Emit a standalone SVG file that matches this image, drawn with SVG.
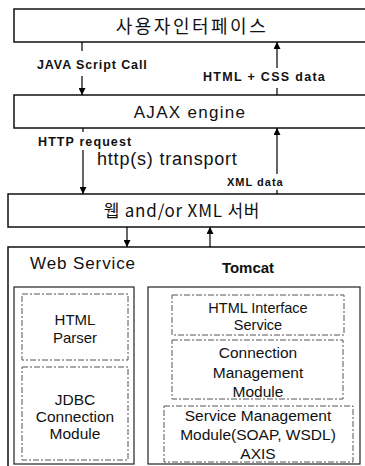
<svg xmlns="http://www.w3.org/2000/svg" width="365" height="466" viewBox="0 0 365 466">
<defs>
<marker id="ah" viewBox="0 0 10 10" refX="10" refY="5" markerWidth="7" markerHeight="7" orient="auto" markerUnits="userSpaceOnUse">
<path d="M0,0 L10,5 L0,10 z" fill="#000"/>
</marker>
<style>
.box{fill:#fff;stroke:#111;stroke-width:1.5}
.frame{fill:none;stroke:#222;stroke-width:1.2}
.inner{fill:none;stroke:#555;stroke-width:1;stroke-dasharray:6 2 2 2}
.conn{stroke:#000;stroke-width:1.2;fill:none;marker-end:url(#ah)}
.t{font-family:"Liberation Sans",Arial,sans-serif;fill:#111;text-anchor:middle}
.k{font-family:"Noto Sans CJK KR","Liberation Sans",sans-serif;fill:#111;text-anchor:middle}
.lbl{font-family:"Liberation Sans",Arial,sans-serif;font-weight:bold;fill:#111}
</style>
</defs>
<rect width="365" height="466" fill="#fff"/>
<g id="ui">
<rect class="box" x="14" y="9" width="360" height="33"/>
<text class="k" x="192" y="33" font-size="18" letter-spacing="2.5">사용자인터페이스</text>
</g>
<g id="ajax">
<rect class="box" x="14" y="95" width="360" height="33"/>
<text class="t" x="190" y="118" font-size="17" letter-spacing="1.3">AJAX engine</text>
</g>
<g id="server">
<rect class="box" x="8" y="194" width="366" height="33"/>
<text class="k" x="182" y="217" font-size="17" letter-spacing="0.8">웹 and/or XML 서버</text>
</g>
<g id="webservice">
<rect class="box" x="8" y="247" width="366" height="230"/>
<text class="t" x="83" y="269" font-size="17" letter-spacing="0.9">Web Service</text>
</g>
<g id="leftframe">
<rect class="frame" x="14" y="287" width="120" height="177"/>
</g>
<g id="htmlparser">
<rect class="inner" x="22" y="294" width="106" height="66"/>
<text class="t" x="75" y="325" font-size="15">HTML</text>
<text class="t" x="75" y="343" font-size="15">Parser</text>
</g>
<g id="jdbc">
<rect class="inner" x="22" y="367" width="106" height="93"/>
<text class="t" x="75" y="405" font-size="15.5">JDBC</text>
<text class="t" x="75" y="422" font-size="15.5">Connection</text>
<text class="t" x="75" y="439" font-size="15.5">Module</text>
</g>
<g id="tomcat">
<rect class="frame" x="148" y="287" width="212" height="177"/>
<text class="t" x="248" y="273" font-size="15" font-weight="bold">Tomcat</text>
</g>
<g id="htmlinterface">
<rect class="inner" x="172" y="295" width="172" height="40"/>
<text class="t" x="258" y="313" font-size="14.5">HTML Interface</text>
<text class="t" x="258" y="330" font-size="14.5">Service</text>
</g>
<g id="connmgmt">
<rect class="inner" x="172" y="340" width="171" height="59"/>
<text class="t" x="258" y="358" font-size="15.5">Connection</text>
<text class="t" x="258" y="378" font-size="15.5">Management</text>
<text class="t" x="258" y="397" font-size="15.5">Module</text>
</g>
<g id="svcmgmt">
<rect class="inner" x="164" y="406" width="189" height="56"/>
<text class="t" x="258" y="421" font-size="15.5">Service Management</text>
<text class="t" x="258" y="440" font-size="15.5">Module(SOAP, WSDL)</text>
<text class="t" x="258" y="459" font-size="15.5">AXIS</text>
</g>
<g id="connectors">
<path class="conn" d="M82,42 V51 M82,76 V95"/>
<path class="conn" d="M277,95 V88 M277,68 V42"/>
<path class="conn" d="M83,128 V132 M83,150 V194"/>
<path class="conn" d="M277,194 V190 M277,174 V128"/>
<line class="conn" x1="127" y1="227" x2="127" y2="247"/>
<line class="conn" x1="210" y1="247" x2="210" y2="227"/>
<text class="lbl" x="37" y="69" font-size="12.5" letter-spacing="0.9">JAVA Script Call</text>
<text class="lbl" x="203" y="81" font-size="12.5" letter-spacing="1.3">HTML + CSS data</text>
<text class="lbl" x="38" y="146" font-size="12.5" letter-spacing="1.1">HTTP request</text>
<text font-family="Liberation Sans, Arial, sans-serif" fill="#111" x="97" y="165" font-size="18" letter-spacing="0.8">http(s) transport</text>
<text class="lbl" x="227" y="186" font-size="11" letter-spacing="1">XML data</text>
</g>
</svg>
